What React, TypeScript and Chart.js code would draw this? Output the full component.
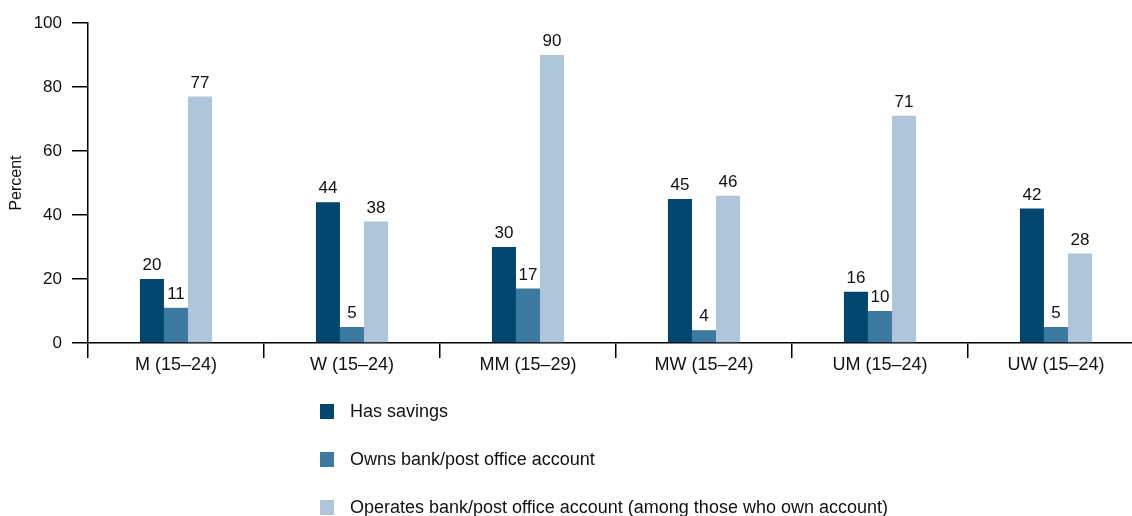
import React, { useEffect, useRef } from "react";
import { Chart, registerables } from "chart.js";

Chart.register(...registerables);

const categories = ["M (15–24)", "W (15–24)", "MM (15–29)", "MW (15–24)", "UM (15–24)", "UW (15–24)"];
const hasSavings = [20, 44, 30, 45, 16, 42];
const ownsAccount = [11, 5, 17, 4, 10, 5];
const operatesAccount = [77, 38, 90, 46, 71, 28];
const seriesLabels = [
  "Has savings",
  "Owns bank/post office account",
  "Operates bank/post office account (among those who own account)",
];
const seriesColors = ["#00466e", "#3c7a9f", "#afc6da"];
const yTicks = [0, 20, 40, 60, 80, 100];

const FONT = "'Liberation Sans', Arial, sans-serif";

const valueLabels = {
  id: "valueLabels",
  afterDatasetsDraw(chart: any) {
    const ctx = chart.ctx;
    ctx.save();
    ctx.font = `17px ${FONT}`;
    ctx.fillStyle = "#111";
    ctx.textAlign = "center";
    ctx.textBaseline = "bottom";
    chart.data.datasets.forEach((ds: any, i: number) => {
      const meta = chart.getDatasetMeta(i);
      meta.data.forEach((bar: any, j: number) => {
        ctx.fillText(String(ds.data[j]), bar.x, bar.y - 5);
      });
    });
    ctx.restore();
  },
};

const stackedLegend = {
  id: "stackedLegend",
  afterDraw(chart: any) {
    const ctx = chart.ctx;
    ctx.save();
    ctx.font = `18px ${FONT}`;
    ctx.textBaseline = "middle";
    ctx.textAlign = "left";
    chart.data.datasets.forEach((ds: any, i: number) => {
      const cy = 411 + i * 48;
      ctx.fillStyle = ds.backgroundColor;
      ctx.fillRect(320, cy - 7, 14, 15);
      ctx.fillStyle = "#111";
      ctx.fillText(ds.label, 350, cy + 1);
    });
    ctx.restore();
  },
};

export default function App() {
  const ref = useRef<HTMLCanvasElement>(null);
  useEffect(() => {
    if (!ref.current) return;
    const chart = new Chart(ref.current, {
      type: "bar",
      data: {
        labels: categories,
        datasets: [hasSavings, ownsAccount, operatesAccount].map((d, i) => ({
          label: seriesLabels[i],
          data: d,
          backgroundColor: seriesColors[i],
          borderWidth: 0,
          categoryPercentage: 0.41,
          barPercentage: 1,
        })),
      },
      options: {
        responsive: false,
        animation: false,
        layout: { padding: { top: 23, right: 6, left: 0, bottom: 133 } },
        plugins: { legend: { display: false }, tooltip: { enabled: false } },
        scales: {
          x: {
            grid: { offset: true, drawOnChartArea: false, tickLength: 15, color: "#000", lineWidth: 1.5 },
            border: { color: "#000", width: 1.5 },
            ticks: { color: "#111", font: { family: FONT, size: 18 }, padding: -4, maxRotation: 0 },
            afterFit: (s: any) => { s.height = 40; },
          },
          y: {
            min: 0,
            max: 100,
            afterBuildTicks: (s: any) => { s.ticks = yTicks.map((v) => ({ value: v })); },
            grid: { drawOnChartArea: false, tickLength: 16, color: "#000", lineWidth: 1.5 },
            border: { color: "#000", width: 1.5 },
            ticks: { color: "#111", font: { family: FONT, size: 17 }, padding: 10 },
            title: { display: true, text: "Percent", color: "#111", font: { family: FONT, size: 16 }, padding: { top: 7, bottom: 0 } },
            afterFit: (s: any) => { s.width = 88; },
          },
        },
      },
      plugins: [valueLabels, stackedLegend],
    });
    return () => chart.destroy();
  }, []);
  return (
    <div style={{ position: "absolute", left: 0, top: 0, width: 1132, height: 516, overflow: "hidden", background: "#fff" }}>
      <canvas ref={ref} width={1150} height={516} style={{ width: 1150, height: 516, display: "block" }} />
    </div>
  );
}
